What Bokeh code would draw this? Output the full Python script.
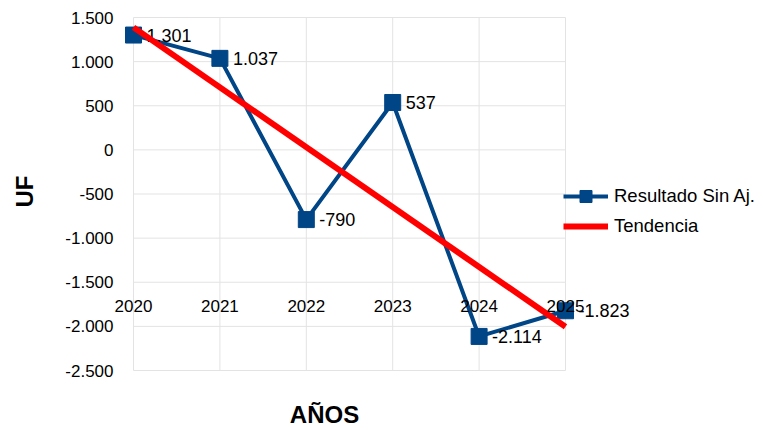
from bokeh.plotting import figure
from bokeh.models import (Range1d, FixedTicker, Legend, LegendItem, Label,
                          ColumnDataSource, LinearAxis)
from bokeh.embed import file_html
from bokeh.resources import INLINE
from bokeh.core.properties import value
import math

# ---- data ----
years = [2020, 2021, 2022, 2023, 2024, 2025]
results = [1301, 1037, -790, 537, -2114, -1823]
trend_years = [2020, 2025]
trend_values = [1388, -2005]
y_ticks = [-2500, -2000, -1500, -1000, -500, 0, 500, 1000, 1500]
y_tick_labels = ["-2.500", "-2.000", "-1.500", "-1.000", "-500", "0", "500", "1.000", "1.500"]
x_tick_labels = ["2020", "2021", "2022", "2023", "2024", "2025"]
series_name = "Resultado Sin Aj."
trend_name = "Tendencia"
y_title = "UF"
x_title = "AÑOS"

FONT = "Liberation Sans"
BLUE = "#004586"
RED = "#ff0000"
GRID = "#e3e3e3"

def fmt(v):
    return f"{v:,}".replace(",", ".")

src = ColumnDataSource(dict(x=years, y=results, lbl=[fmt(v) for v in results]))

W, H = 763, 430
# plot area (in figure pixels)
L, R, T, B = 133, 565, 17, 370
px_per_year = (R - L) / (years[-1] - years[0])
px_per_unit = (B - T) / (y_ticks[-1] - y_ticks[0])
x0 = years[0] - L / px_per_year
x1 = years[-1] + (W - R) / px_per_year
y1 = y_ticks[-1] + T / px_per_unit
y0 = y_ticks[0] - (H - B) / px_per_unit

p = figure(width=W, height=H, output_backend="svg", toolbar_location=None,
           x_range=Range1d(x0, x1), y_range=Range1d(y0, y1),
           x_axis_location=None, y_axis_location=None,
           min_border=0)
p.outline_line_color = None
p.background_fill_color = "white"
p.border_fill_color = "white"
p.grid.visible = False

# grid lines limited to the plotting area
p.segment(x0=[years[0]] * len(y_ticks), x1=[years[-1]] * len(y_ticks),
          y0=y_ticks, y1=y_ticks, line_color=GRID, line_width=1)
p.segment(x0=years, x1=years, y0=[y_ticks[0]] * len(years),
          y1=[y_ticks[-1]] * len(years), line_color=GRID, line_width=1)

# y axis (labels only)
yax = LinearAxis(fixed_location=years[0], ticker=FixedTicker(ticks=y_ticks),
                 major_label_overrides={t: l for t, l in zip(y_ticks, y_tick_labels)},
                 axis_line_color=None, major_tick_line_color=None,
                 minor_tick_line_color=None, major_tick_out=0, major_tick_in=0,
                 major_label_standoff=20, major_label_text_font=FONT,
                 major_label_text_font_size="17px", major_label_text_color="black")
p.add_layout(yax, "left")

# x axis crossing at -1500 (labels only)
xax = LinearAxis(fixed_location=-1500, ticker=FixedTicker(ticks=years),
                 major_label_overrides={y: l for y, l in zip(years, x_tick_labels)},
                 axis_line_color=None, major_tick_line_color=None,
                 minor_tick_line_color=None, major_tick_out=0, major_tick_in=0,
                 major_label_standoff=18, major_label_text_font=FONT,
                 major_label_text_font_size="17px", major_label_text_color="black")
p.add_layout(xax, "below")

# series
line_r = p.line("x", "y", source=src, line_color=BLUE, line_width=4)
sq_r = p.scatter("x", "y", source=src, marker="square", size=16,
                 fill_color=BLUE, line_color=BLUE)
p.text("x", "y", text="lbl", source=src, x_offset=13, text_align="left",
       text_baseline="middle", text_font=value(FONT), text_font_size="18px",
       text_color="black")
trend_r = p.line(trend_years, trend_values, line_color=RED, line_width=6)

# axis titles
p.add_layout(Label(x=years[0] - (L - 24) / px_per_year, y=-472, text=y_title,
                   angle=math.pi / 2, text_align="center", text_baseline="middle",
                   text_font=FONT, text_font_size="24px", text_font_style="bold",
                   text_color="black"))
p.add_layout(Label(x=years[0] + (324 - L) / px_per_year, y=-2999, text=x_title,
                   text_align="center", text_baseline="middle",
                   text_font=FONT, text_font_size="24px", text_font_style="bold",
                   text_color="black"))

legend = Legend(items=[LegendItem(label=series_name, renderers=[line_r, sq_r]),
                       LegendItem(label=trend_name, renderers=[trend_r])],
                location=(563, 189), padding=0, margin=0, spacing=0,
                glyph_width=45, glyph_height=30, label_standoff=6,
                label_text_font=FONT, label_text_font_size="18.5px",
                label_text_color="black", border_line_color=None,
                background_fill_alpha=0)
p.add_layout(legend)

open("out.html", "w").write(file_html(p, INLINE))
